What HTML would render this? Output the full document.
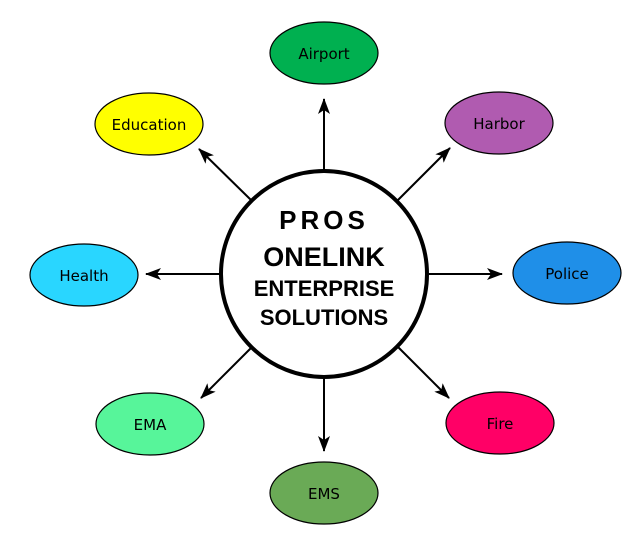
<!DOCTYPE html><html><head><style>body{margin:0;background:#fff}</style></head><body>
<svg width="640" height="550" xmlns="http://www.w3.org/2000/svg">
<defs><marker id="a" markerWidth="16" markerHeight="12" refX="15" refY="6" orient="auto" markerUnits="userSpaceOnUse"><path d="M0,0 L16,6 L0,12 L4,6 Z" fill="#000"/></marker></defs>
<g stroke="#000" stroke-width="2" marker-end="url(#a)">
<line x1="324" y1="170" x2="324" y2="99"/>
<line x1="324" y1="378" x2="324" y2="451"/>
<line x1="221" y1="274" x2="146" y2="274"/>
<line x1="427" y1="274" x2="502" y2="274"/>
<line x1="251" y1="200" x2="199" y2="149"/>
<line x1="398" y1="200" x2="450" y2="148"/>
<line x1="251" y1="348" x2="201" y2="398"/>
<line x1="398" y1="347" x2="449" y2="398"/>
</g>
<circle cx="324" cy="274" r="103" fill="#fff" stroke="#000" stroke-width="4"/>
<g font-family="Liberation Sans, sans-serif" font-weight="bold" text-anchor="middle" fill="#000">
<text x="324" y="229" font-size="26" letter-spacing="4">PROS</text>
<text x="324" y="266" font-size="27">ONELINK</text>
<text x="324" y="296" font-size="22">ENTERPRISE</text>
<text x="324" y="325" font-size="22">SOLUTIONS</text>
</g>
<g stroke="#000" stroke-width="1.2">
<ellipse cx="324" cy="53" rx="54" ry="31" fill="#00b050"/>
<ellipse cx="149" cy="124" rx="54" ry="31" fill="#ffff00"/>
<ellipse cx="499" cy="123" rx="54" ry="31" fill="#b05bb0"/>
<ellipse cx="84" cy="275" rx="54" ry="31" fill="#29d6ff"/>
<ellipse cx="567" cy="273" rx="54" ry="31" fill="#1f8fe8"/>
<ellipse cx="150" cy="424" rx="54" ry="31" fill="#57f59a"/>
<ellipse cx="500" cy="423" rx="54" ry="31" fill="#ff0066"/>
<ellipse cx="324" cy="493" rx="54" ry="31" fill="#6aaa56"/>
</g>
<g font-family="DejaVu Sans, sans-serif" font-size="15" text-anchor="middle" fill="#000">
<text x="324" y="59">Airport</text>
<text x="149" y="130">Education</text>
<text x="499" y="129">Harbor</text>
<text x="84" y="281">Health</text>
<text x="567" y="279">Police</text>
<text x="150" y="430">EMA</text>
<text x="500" y="429">Fire</text>
<text x="324" y="499">EMS</text>
</g>
</svg>
</body></html>
